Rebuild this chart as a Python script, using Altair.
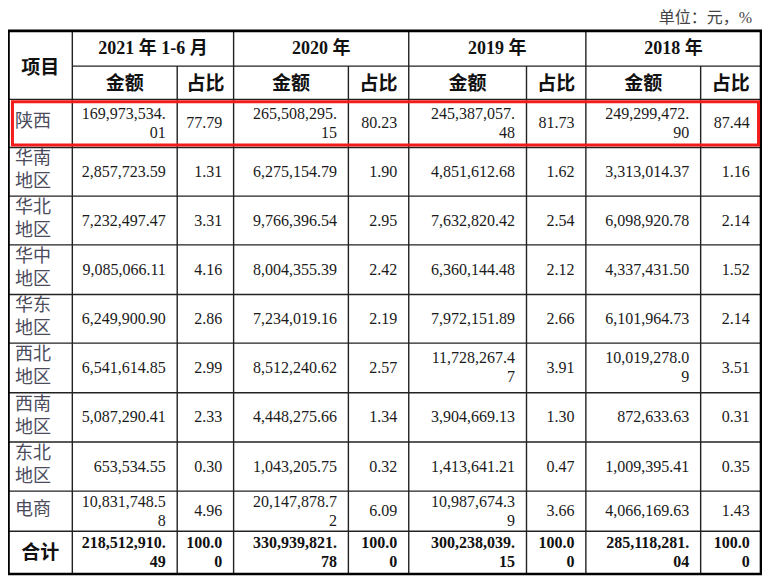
import altair as alt
import pandas as pd

# ---------------- data ----------------
unit_label = "单位：元，%"
item_header = "项目"
periods = ["2021 年 1-6 月", "2020 年", "2019 年", "2018 年"]
sub_headers = ["金额", "占比"]
regions = ["陕西", "华南地区", "华北地区", "华中地区", "华东地区",
           "西北地区", "西南地区", "东北地区", "电商"]
total_label = "合计"

amount_2021 = [169973534.01, 2857723.59, 7232497.47, 9085066.11, 6249900.90,
               6541614.85, 5087290.41, 653534.55, 10831748.58]
share_2021 = [77.79, 1.31, 3.31, 4.16, 2.86, 2.99, 2.33, 0.30, 4.96]
amount_2020 = [265508295.15, 6275154.79, 9766396.54, 8004355.39, 7234019.16,
               8512240.62, 4448275.66, 1043205.75, 20147878.72]
share_2020 = [80.23, 1.90, 2.95, 2.42, 2.19, 2.57, 1.34, 0.32, 6.09]
amount_2019 = [245387057.48, 4851612.68, 7632820.42, 6360144.48, 7972151.89,
               11728267.47, 3904669.13, 1413641.21, 10987674.39]
share_2019 = [81.73, 1.62, 2.54, 2.12, 2.66, 3.91, 1.30, 0.47, 3.66]
amount_2018 = [249299472.90, 3313014.37, 6098920.78, 4337431.50, 6101964.73,
               10019278.09, 872633.63, 1009395.41, 4066169.63]
share_2018 = [87.44, 1.16, 2.14, 1.52, 2.14, 3.51, 0.31, 0.35, 1.43]
total_amount = [218512910.49, 330939821.78, 300238039.15, 285118281.04]
total_share = [100.00, 100.00, 100.00, 100.00]

amounts = [amount_2021, amount_2020, amount_2019, amount_2018]
shares = [share_2021, share_2020, share_2019, share_2018]

# ---------------- layout (reference pixel grid) ----------------
X0, X1 = 4, 766
Y0, Y1 = 8, 580
W, H = 754, 568
KY = H / (Y1 - Y0)
col_edges = [4, 69, 175, 232, 348, 409, 528, 588, 704, 765]
top, head_mid, head_bot = 31, 66.5, 100
row_edges = [100, 148.5, 197.5, 246.5, 296.5, 345.5, 395.5, 445, 494.5, 535, 578]
PAD = 11.5
LH_NUM = 19
LH_LAB = 23

xs = alt.Scale(domain=[X0, X1], nice=False, zero=False)
ys = alt.Scale(domain=[Y0, Y1], nice=False, zero=False, reverse=True)


def wrap(s, n):
    return s if len(s) <= n else s[:n] + "\n" + s[n:]


def fmt_amount(v):
    return wrap(f"{v:,.2f}", 12)


def fmt_share(v):
    return wrap(f"{v:.2f}", 5)


def cell(x, yc, t, lh):
    n = t.count("\n") + 1
    return {"x": x, "y": yc - (n - 1) * lh / 2 / KY, "t": t}


# cell texts
num_rows, bold_rows, label_rows = [], [], []
for r, name in enumerate(regions):
    yc = (row_edges[r] + row_edges[r + 1]) / 2
    label_rows.append(cell(11, yc - 1, wrap(name, 2), LH_LAB))
    for p in range(4):
        ra = col_edges[1 + 2 * p + 1] - PAD
        rs = col_edges[1 + 2 * p + 2] - PAD
        num_rows.append(cell(ra, yc, fmt_amount(amounts[p][r]), LH_NUM))
        num_rows.append(cell(rs, yc, fmt_share(shares[p][r]), LH_NUM))
yt = (row_edges[-2] + row_edges[-1]) / 2
for p in range(4):
    ra = col_edges[1 + 2 * p + 1] - PAD
    rs = col_edges[1 + 2 * p + 2] - PAD
    bold_rows.append(cell(ra, yt, fmt_amount(total_amount[p]), LH_NUM))
    bold_rows.append(cell(rs, yt, fmt_share(total_share[p]), LH_NUM))

head_rows = [{"x": (col_edges[0] + col_edges[1]) / 2, "y": 68, "t": item_header},
             {"x": (col_edges[0] + col_edges[1]) / 2, "y": yt, "t": total_label}]
for p in range(4):
    for k in range(2):
        a, b = col_edges[1 + 2 * p + k], col_edges[1 + 2 * p + k + 1]
        head_rows.append({"x": (a + b) / 2, "y": 85, "t": sub_headers[k]})
year_rows = [{"x": (col_edges[1 + 2 * p] + col_edges[3 + 2 * p]) / 2, "y": 49.5,
              "t": periods[p]} for p in range(4)]

# grid lines
lines = []
for i in [1, 3, 5, 7]:
    lines.append({"x": col_edges[i], "x2": col_edges[i], "y": top, "y2": row_edges[-1]})
for i in [2, 4, 6, 8]:
    lines.append({"x": col_edges[i], "x2": col_edges[i], "y": head_mid, "y2": row_edges[-1]})
lines.append({"x": col_edges[1], "x2": col_edges[-1], "y": head_mid, "y2": head_mid})
for yv in row_edges[:-1]:
    lines.append({"x": col_edges[0], "x2": col_edges[-1], "y": yv, "y2": yv})

X = lambda: alt.X("x:Q", scale=xs, axis=None)
Y = lambda: alt.Y("y:Q", scale=ys, axis=None)

grid = alt.Chart(pd.DataFrame(lines)).mark_rule(color="#222222", strokeWidth=1.4).encode(
    x=X(), x2="x2:Q", y=Y(), y2="y2:Q")

outer = alt.Chart(pd.DataFrame([{"x": col_edges[0] + 0.5, "x2": col_edges[-1],
                                 "y": top, "y2": row_edges[-1]}])).mark_rect(
    fillOpacity=0, stroke="#000000", strokeWidth=2.6).encode(
    x=X(), x2="x2:Q", y=Y(), y2="y2:Q")

redbox = alt.Chart(pd.DataFrame([{"x": 8.5, "x2": 762.5, "y": 102.5, "y2": 146}])).mark_rect(
    fillOpacity=0, stroke="#f41b1b", strokeWidth=3).encode(
    x=X(), x2="x2:Q", y=Y(), y2="y2:Q")

SERIF = "Liberation Serif, Noto Sans CJK SC"
CJK = "Noto Sans CJK SC"

nums = alt.Chart(pd.DataFrame(num_rows)).mark_text(
    align="right", baseline="middle", font=SERIF, fontSize=16, color="#1a1a1a",
    lineBreak="\n", lineHeight=LH_NUM).encode(x=X(), y=Y(), text="t:N")

bolds = alt.Chart(pd.DataFrame(bold_rows)).mark_text(
    align="right", baseline="middle", font=SERIF, fontSize=16, fontWeight="bold",
    color="#111111", lineBreak="\n", lineHeight=LH_NUM).encode(x=X(), y=Y(), text="t:N")

labels = alt.Chart(pd.DataFrame(label_rows)).mark_text(
    align="left", baseline="middle", font=CJK, fontSize=18, color="#4b4b5c",
    lineBreak="\n", lineHeight=LH_LAB).encode(x=X(), y=Y(), text="t:N")

heads = alt.Chart(pd.DataFrame(head_rows)).mark_text(
    align="center", baseline="middle", font=CJK, fontSize=19, fontWeight="bold",
    color="#111111").encode(x=X(), y=Y(), text="t:N")

years = alt.Chart(pd.DataFrame(year_rows)).mark_text(
    align="center", baseline="middle", font=SERIF, fontSize=18, fontWeight="bold",
    color="#111111").encode(x=X(), y=Y(), text="t:N")

unit = alt.Chart(pd.DataFrame([{"x": 756, "y": 18, "t": unit_label}])).mark_text(
    align="right", baseline="middle", font=SERIF, fontSize=16, color="#444444").encode(
    x=X(), y=Y(), text="t:N")

chart = alt.layer(grid, outer, redbox, nums, bolds, labels, heads, years, unit).properties(
    width=W, height=H, padding=0, autosize=alt.AutoSizeParams(type="none"),
    background="white").configure_view(stroke=None)

chart.save("out.html", embed_options={"renderer": "svg", "actions": False})
